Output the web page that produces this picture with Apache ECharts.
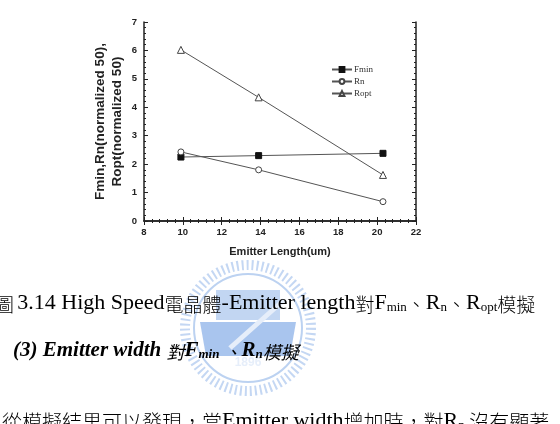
<!DOCTYPE html>
<html>
<head>
<meta charset="utf-8">
<script src="https://cdn.jsdelivr.net/npm/echarts@6/dist/echarts.min.js"></script>
<style>
  html, body { margin: 0; padding: 0; background: #fff; }
  #chart { width: 560px; height: 424px; }
</style>
</head>
<body>
<div id="chart"></div>
<script>
// data
const lengths = [9.9, 13.9, 20.3]
const fmin = [2.25, 2.3, 2.38]
const rn = [2.43, 1.8, 0.68]
const ropt = [6.02, 4.35, 1.62]
const seriesNames = ['Fmin', 'Rn', 'Ropt']

const chart = echarts.init(document.getElementById('chart'))

const pairs = arr => lengths.map((x, i) => [x, arr[i]])
const lineColor = '#555'
const tickFont = { fontFamily: 'Liberation Sans', fontWeight: 'bold', fontSize: 9.5, color: '#222' }

// plain axes on the top and right to close the box
const frameAxis = {
  axisLine: { show: true, lineStyle: { color: '#222', width: 1.5 } },
  axisTick: { show: true, inside: true, length: 4, lineStyle: { color: '#222' } },
  minorTick: { show: true, splitNumber: 5, length: 2, lineStyle: { color: '#222' } },
  axisLabel: { show: false },
  splitLine: { show: false }
}

const serif = '"Liberation Serif", serif'
const cjk = '"Noto Sans CJK TC", serif'

const option = {
  animation: false,
  backgroundColor: '#fff',
  grid: { left: 144, right: 144, top: 22, bottom: 203 },
  legend: {
    orient: 'vertical',
    left: 326, top: 60,
    itemGap: 3,
    itemWidth: 20, itemHeight: 6,
    textStyle: { fontFamily: 'Liberation Serif', fontSize: 9, color: '#333', padding: [0, 0, 0, -3] },
    data: seriesNames
  },
  xAxis: [
    Object.assign({}, frameAxis, {
      type: 'value', min: 8, max: 22, interval: 2, position: 'bottom',
      name: 'Emitter Length(um)', nameLocation: 'middle', nameGap: 25,
      nameTextStyle: { fontFamily: 'Liberation Sans', fontWeight: 'bold', fontSize: 11, color: '#222' },
      axisLabel: Object.assign({ show: true, margin: 6 }, tickFont)
    }),
    Object.assign({}, frameAxis, { type: 'value', min: 8, max: 22, interval: 2, position: 'top' })
  ],
  yAxis: [
    Object.assign({}, frameAxis, {
      type: 'value', min: 0, max: 7, interval: 1, position: 'left',
      name: 'Fmin,Rn(normalized 50),\nRopt(normalized 50)', nameLocation: 'middle', nameGap: 18,
      nameTextStyle: { fontFamily: 'Liberation Sans', fontWeight: 'bold', fontSize: 13.5, color: '#222', lineHeight: 17 },
      axisLabel: Object.assign({ show: true, margin: 7 }, tickFont)
    }),
    Object.assign({}, frameAxis, { type: 'value', min: 0, max: 7, interval: 1, position: 'right' })
  ],
  series: [
    {
      name: 'Fmin', type: 'line', data: pairs(fmin),
      symbol: 'rect', symbolSize: 6,
      lineStyle: { color: lineColor, width: 1 },
      itemStyle: { color: '#111', borderColor: '#111', borderWidth: 1 }
    },
    {
      name: 'Rn', type: 'line', data: pairs(rn),
      symbol: 'circle', symbolSize: 6,
      lineStyle: { color: lineColor, width: 1 },
      itemStyle: { color: '#fff', borderColor: '#444', borderWidth: 1 }
    },
    {
      name: 'Ropt', type: 'line', data: pairs(ropt),
      symbol: 'triangle', symbolSize: 7,
      lineStyle: { color: lineColor, width: 1 },
      itemStyle: { color: '#fff', borderColor: '#444', borderWidth: 1 }
    }
  ],
  graphic: [
    // faint watermark seal
    {
      type: 'group', left: 180, top: 260, silent: true, z: -1,
      children: [
        { type: 'circle', shape: { cx: 68, cy: 68, r: 63 },
          style: { fill: 'none', stroke: '#c4d7f3', lineWidth: 10, lineDash: [2, 3] } },
        { type: 'circle', shape: { cx: 68, cy: 68, r: 54 },
          style: { fill: 'none', stroke: '#bcd2f1', lineWidth: 2 } },
        { type: 'rect', shape: { x: 36, y: 30, width: 64, height: 30 },
          style: { fill: '#c2d6f2' } },
        { type: 'polygon', shape: { points: [[20, 62], [116, 62], [110, 96], [26, 96]] },
          style: { fill: '#a9c5ee' } },
        { type: 'line', shape: { x1: 50, y1: 88, x2: 104, y2: 40 },
          style: { stroke: '#e6eefa', lineWidth: 5 } },
        { type: 'text', style: { x: 68, y: 97, text: '1896', fill: '#e6eefa', align: 'center',
          font: 'bold 12px "Liberation Sans"' } }
      ]
    },
    {
      type: 'text', left: -5, top: 292,
      style: {
        text: '{c|圖} {t|3.14 High Speed}{c|電晶體}{t|-Emitter length}{c|對}{t|F}{s|min}{c|、}{t|R}{s|n}{c|、}{t|R}{s|opt}{c|模擬}',
        rich: {
          t: { fontFamily: serif, fontSize: 22, color: '#111', verticalAlign: 'bottom', lineHeight: 26 },
          c: { fontFamily: cjk, fontSize: 19, fontWeight: 300, color: '#222', verticalAlign: 'bottom', lineHeight: 25 },
          s: { fontFamily: serif, fontSize: 13, color: '#111', verticalAlign: 'bottom', lineHeight: 22 }
        }
      }
    },
    {
      type: 'text', left: 13, top: 340,
      style: {
        text: '{t|(3) Emitter width }{c|對}{t|F}{s|min}{c| 、}{t|R}{s|n}{c|模擬}',
        rich: {
          t: { fontFamily: serif, fontSize: 21, fontWeight: 'bold', fontStyle: 'italic', color: '#111', verticalAlign: 'bottom', lineHeight: 26 },
          c: { fontFamily: cjk, fontSize: 18, fontStyle: 'italic', color: '#222', verticalAlign: 'bottom', lineHeight: 22 },
          s: { fontFamily: serif, fontSize: 13, fontWeight: 'bold', fontStyle: 'italic', color: '#111', verticalAlign: 'bottom', lineHeight: 22 }
        }
      }
    },
    {
      type: 'text', left: 2, top: 410,
      style: {
        text: '{c|從模擬結果可以發現，當}{t|Emitter width}{c|增加時，對}{t|R}{s|n}{c| 沒有顯著}',
        rich: {
          t: { fontFamily: serif, fontSize: 22, color: '#111', verticalAlign: 'bottom', lineHeight: 26 },
          c: { fontFamily: cjk, fontSize: 20, fontWeight: 300, color: '#222', verticalAlign: 'bottom', lineHeight: 25 },
          s: { fontFamily: serif, fontSize: 13, color: '#111', verticalAlign: 'bottom', lineHeight: 22 }
        }
      }
    }
  ]
}

chart.setOption(option)
</script>
</body>
</html>
